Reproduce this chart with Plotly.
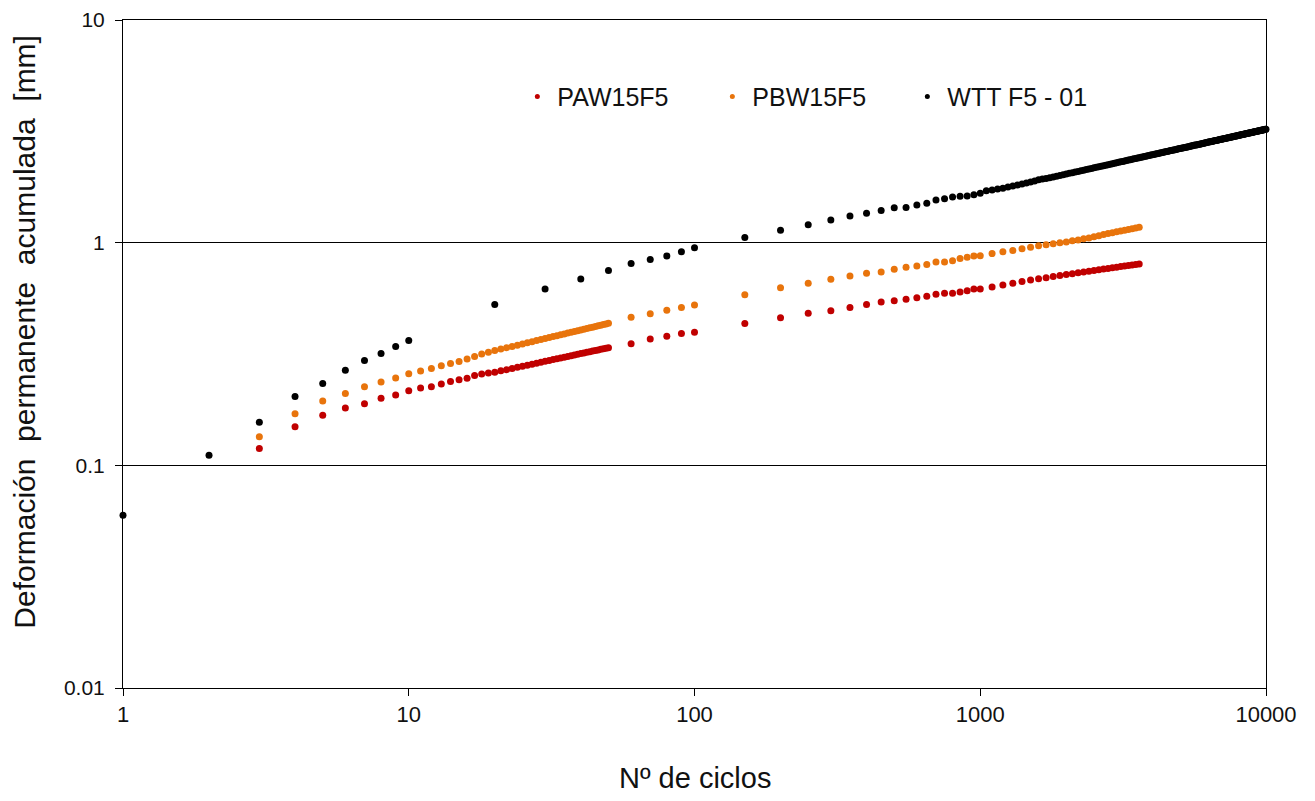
import plotly.graph_objects as go

# ---------------- data ----------------
# PAW15F5 / PBW15F5 cycles
pa_cycles = list(range(3, 51)) + [60, 70, 80, 90, 100] + list(range(150, 1001, 50)) + list(range(1100, 3601, 100))

paw15f5 = [
    0.119, 0.149, 0.168, 0.181, 0.189, 0.200, 0.207, 0.2165, 0.2226, 0.2256,
    0.232, 0.238, 0.242, 0.246, 0.253, 0.257, 0.260, 0.262, 0.2656, 0.2690,
    0.2723, 0.2755, 0.2787, 0.2818, 0.2847, 0.2876, 0.2904, 0.2932, 0.2958, 0.2984,
    0.3010, 0.3035, 0.3059, 0.3083, 0.3107, 0.3130, 0.3152, 0.3175, 0.3197, 0.3218,
    0.3239, 0.3259, 0.3280, 0.3300, 0.3320, 0.3339, 0.3358, 0.3376,
    0.352, 0.369, 0.380, 0.391, 0.396,
    0.434, 0.460, 0.482, 0.495, 0.511, 0.527, 0.542, 0.549, 0.557, 0.566,
    0.574, 0.586, 0.592, 0.592, 0.600, 0.609, 0.619, 0.619,
    0.633, 0.646, 0.658, 0.669, 0.679, 0.688, 0.696, 0.704, 0.712, 0.719,
    0.726, 0.732, 0.738, 0.744, 0.750, 0.756, 0.761, 0.766, 0.771, 0.776,
    0.781, 0.786, 0.790, 0.794, 0.798, 0.802,
]

pbw15f5 = [
    0.1345, 0.1705, 0.1946, 0.210, 0.2256, 0.2365, 0.2465, 0.258, 0.265, 0.272,
    0.280, 0.287, 0.293, 0.300, 0.308, 0.316, 0.322, 0.328, 0.3327, 0.3375,
    0.3421, 0.3466, 0.3509, 0.3552, 0.3593, 0.3634, 0.3673, 0.3712, 0.3749, 0.3786,
    0.3822, 0.3857, 0.3892, 0.3926, 0.3958, 0.3991, 0.4023, 0.4054, 0.4085, 0.4115,
    0.4145, 0.4174, 0.4203, 0.4231, 0.4259, 0.4287, 0.4315, 0.4342,
    0.462, 0.480, 0.497, 0.511, 0.525,
    0.584, 0.628, 0.657, 0.685, 0.708, 0.728, 0.738, 0.759, 0.775, 0.786,
    0.797, 0.819, 0.819, 0.830, 0.848, 0.859, 0.871, 0.874,
    0.893, 0.911, 0.923, 0.940, 0.953, 0.969, 0.979, 0.988, 0.998, 1.008,
    1.019, 1.029, 1.040, 1.050, 1.062, 1.075, 1.087, 1.099, 1.109, 1.119,
    1.128, 1.138, 1.147, 1.156, 1.164, 1.172,
]

# WTT F5 - 01 cycles
wtt_cycles = list(range(1, 11)) + list(range(20, 101, 10)) + list(range(150, 10001, 50))

wtt_f5_01 = [
    0.0597, 0.111, 0.156, 0.204, 0.233, 0.267, 0.296, 0.318, 0.342, 0.364,
    0.527, 0.620, 0.687, 0.749, 0.807, 0.841, 0.871, 0.911, 0.950,
    1.056, 1.136, 1.205, 1.264, 1.318, 1.354, 1.396, 1.436, 1.440, 1.477,
    1.502, 1.555, 1.576, 1.603, 1.614, 1.620, 1.643, 1.665, 1.712, 1.724,
    1.742, 1.755, 1.776, 1.796, 1.815, 1.834, 1.853, 1.871, 1.893, 1.915,
    1.930, 1.944, 1.956, 1.972, 1.988, 2.003, 2.018, 2.033, 2.048, 2.062,
    2.076, 2.089, 2.103, 2.116, 2.130, 2.142, 2.155, 2.168, 2.180, 2.192,
    2.204, 2.216, 2.228, 2.240, 2.251, 2.263, 2.274, 2.285, 2.296, 2.307,
    2.317, 2.328, 2.338, 2.348, 2.359, 2.369, 2.379, 2.389, 2.399, 2.408,
    2.418, 2.427, 2.437, 2.446, 2.455, 2.464, 2.473, 2.482, 2.491, 2.500,
    2.508, 2.517, 2.526, 2.534, 2.543, 2.551, 2.559, 2.568, 2.576, 2.584,
    2.592, 2.600, 2.608, 2.616, 2.623, 2.631, 2.639, 2.646, 2.655, 2.662,
    2.669, 2.677, 2.684, 2.692, 2.699, 2.706, 2.714, 2.720, 2.728, 2.735,
    2.742, 2.749, 2.756, 2.763, 2.770, 2.776, 2.783, 2.790, 2.797, 2.803,
    2.810, 2.816, 2.823, 2.829, 2.836, 2.842, 2.849, 2.855, 2.861, 2.867,
    2.874, 2.880, 2.886, 2.892, 2.898, 2.904, 2.910, 2.916, 2.922, 2.928,
    2.934, 2.940, 2.946, 2.951, 2.957, 2.963, 2.969, 2.974, 2.980, 2.986,
    2.991, 2.997, 3.002, 3.008, 3.013, 3.019, 3.025, 3.030, 3.036, 3.041,
    3.046, 3.052, 3.057, 3.063, 3.068, 3.073, 3.078, 3.084, 3.089, 3.094,
    3.100, 3.105, 3.110, 3.115, 3.120, 3.125, 3.130, 3.135, 3.140, 3.145,
    3.150, 3.155, 3.160, 3.165, 3.170, 3.175, 3.179, 3.184, 3.189, 3.194,
    3.198, 3.203, 3.208, 3.213, 3.217, 3.222, 3.227, 3.231,
]

x_tickvals = [1, 10, 100, 1000, 10000]
x_ticktext = ["1", "10", "100", "1000", "10000"]
y_tickvals = [0.01, 0.1, 1, 10]
y_ticktext = ["0.01", "0.1", "1", "10"]

series_names = ["PAW15F5", "PBW15F5", "WTT F5 - 01"]
series_colors = ["#C00000", "#E8740C", "#000000"]

FONT = "Liberation Sans, Arial, sans-serif"

fig = go.Figure()
for name, xs, ys, col in [
    (series_names[0], pa_cycles, paw15f5, series_colors[0]),
    (series_names[1], pa_cycles, pbw15f5, series_colors[1]),
    (series_names[2], wtt_cycles, wtt_f5_01, series_colors[2]),
]:
    fig.add_trace(go.Scatter(
        x=xs, y=ys, mode="markers", name=name,
        marker=dict(color=col, size=7, line=dict(width=0)),
        cliponaxis=False, showlegend=False, legendgroup=name,
    ))
    # legend entry with the small symbol used in the reference legend
    fig.add_trace(go.Scatter(
        x=[None], y=[None], mode="markers", name=name,
        marker=dict(color=col, size=5, line=dict(width=0)),
        showlegend=True, legendgroup=name,
    ))

fig.update_layout(
    width=1315, height=801,
    margin=dict(l=115, r=57, t=12, b=121, autoexpand=False),
    paper_bgcolor="white", plot_bgcolor="white",
    font=dict(family=FONT, color="#111111"),
    showlegend=True,
    legend=dict(
        orientation="h", x=0.345, xanchor="left", y=0.885, yanchor="middle",
        font=dict(size=25, family=FONT, color="#111111"),
        bgcolor="rgba(0,0,0,0)", entrywidth=150, itemsizing="trace",
    ),
)

fig.update_xaxes(
    type="log", range=[0, 4], automargin=False,
    tickvals=x_tickvals, ticktext=x_ticktext,
    ticks="outside", ticklen=7, tickcolor="black", tickwidth=1,
    showline=True, linecolor="black", linewidth=1, mirror=True,
    showgrid=False, zeroline=False,
    tickfont=dict(size=22, family=FONT, color="#111111"),
)
fig.update_yaxes(
    type="log", range=[-2, 1], automargin=False,
    tickvals=y_tickvals, ticktext=y_ticktext,
    ticks="outside", ticklen=7, tickcolor="black", tickwidth=1,
    showline=True, linecolor="black", linewidth=1, mirror=True,
    showgrid=True, gridcolor="black", gridwidth=1, zeroline=False,
    ticklabelstandoff=6,
    tickfont=dict(size=21, family=FONT, color="#111111"),
)

fig.add_annotation(
    text="Nº de ciclos", xref="paper", yref="paper",
    x=0.5, y=-0.135, xanchor="center", yanchor="middle", showarrow=False,
    font=dict(size=29, family=FONT, color="#111111"),
)
fig.add_annotation(
    text="Deformación  permanente  acumulada  [mm]", xref="paper", yref="paper",
    x=-0.086, y=0.533, xanchor="center", yanchor="middle", showarrow=False,
    textangle=-90,
    font=dict(size=30, family=FONT, color="#111111"),
)

fig.write_html("out.html")
